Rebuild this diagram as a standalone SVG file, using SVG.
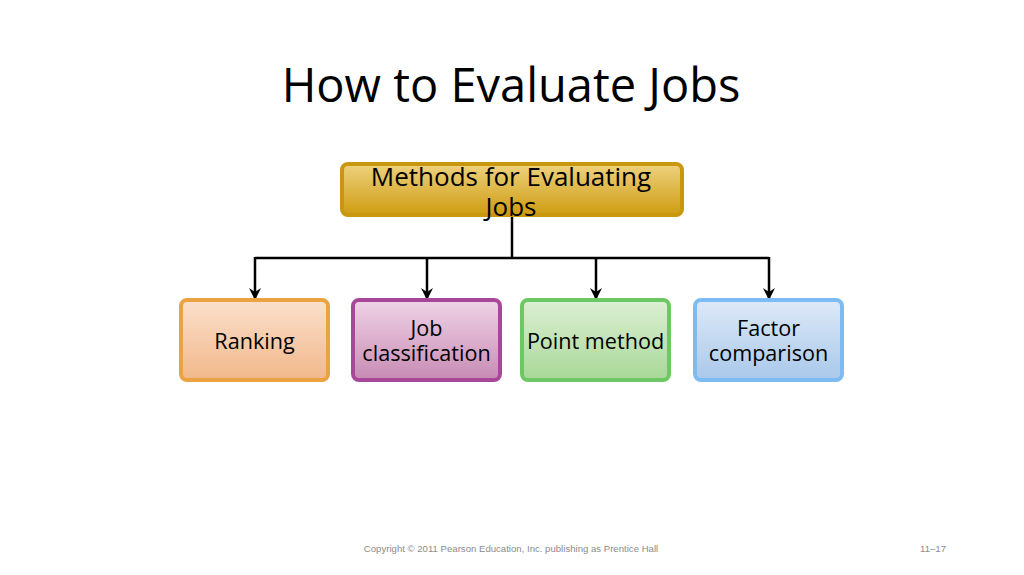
<svg xmlns="http://www.w3.org/2000/svg" width="1024" height="575" viewBox="0 0 1024 575">
<defs>
<linearGradient id="gGold" x1="0" y1="0" x2="0" y2="1"><stop offset="0" stop-color="#edd27e"/><stop offset="1" stop-color="#cf9c12"/></linearGradient>
<linearGradient id="gOrange" x1="0" y1="0" x2="0" y2="1"><stop offset="0" stop-color="#fbe0cc"/><stop offset="1" stop-color="#f1b88a"/></linearGradient>
<linearGradient id="gPurple" x1="0" y1="0" x2="0" y2="1"><stop offset="0" stop-color="#efd3e6"/><stop offset="1" stop-color="#c88bb4"/></linearGradient>
<linearGradient id="gGreen" x1="0" y1="0" x2="0" y2="1"><stop offset="0" stop-color="#dcefd3"/><stop offset="1" stop-color="#a8d897"/></linearGradient>
<linearGradient id="gBlue" x1="0" y1="0" x2="0" y2="1"><stop offset="0" stop-color="#dde9f8"/><stop offset="1" stop-color="#a9c8ea"/></linearGradient>
<marker id="arr" markerWidth="12" markerHeight="12" viewBox="0 0 12 12" refX="11" refY="6" orient="auto" markerUnits="userSpaceOnUse">
<path d="M0,0 L12,6 L0,12 L4,6 Z" fill="#000"/>
</marker>
</defs>
<style>
.t{font-family:"Open Sans","Noto Sans",sans-serif;fill:#000;text-anchor:middle}
.conn{fill:none;stroke:#000;stroke-width:2.5}
.foot{font-family:"Liberation Sans",Arial,sans-serif;font-size:9.6px;fill:#8c8c8c}
</style>
<rect width="1024" height="575" fill="#fff"/>
<text class="t" x="511" y="102" font-size="47">How to Evaluate Jobs</text>
<g id="connectors">
<path class="conn" d="M512,198 V258"/>
<path class="conn" d="M255,258 H769"/>
<path class="conn" d="M255,257 V299" marker-end="url(#arr)"/>
<path class="conn" d="M427,257 V299" marker-end="url(#arr)"/>
<path class="conn" d="M596,257 V299" marker-end="url(#arr)"/>
<path class="conn" d="M769,257 V299" marker-end="url(#arr)"/>
</g>
<g id="node-methods">
<rect x="342" y="164" width="340" height="51" rx="6" fill="url(#gGold)" stroke="#c9960f" stroke-width="4"/>
<text class="t" font-size="26"><tspan x="511" y="186">Methods for Evaluating</tspan><tspan x="511" y="216">Jobs</tspan></text>
</g>
<g id="node-ranking">
<rect x="181" y="300" width="147" height="80" rx="6" fill="url(#gOrange)" stroke="#eba240" stroke-width="4"/>
<text class="t" font-size="21.6" x="254.5" y="349">Ranking</text>
</g>
<g id="node-job">
<rect x="353" y="300" width="147" height="80" rx="6" fill="url(#gPurple)" stroke="#a8479a" stroke-width="4"/>
<text class="t" font-size="21.6"><tspan x="426.5" y="336">Job</tspan><tspan x="426.5" y="361">classification</tspan></text>
</g>
<g id="node-point">
<rect x="522" y="300" width="147" height="80" rx="6" fill="url(#gGreen)" stroke="#6cc862" stroke-width="4"/>
<text class="t" font-size="21.6" x="595.5" y="349">Point method</text>
</g>
<g id="node-factor">
<rect x="695" y="300" width="147" height="80" rx="6" fill="url(#gBlue)" stroke="#7dbcf2" stroke-width="4"/>
<text class="t" font-size="21.6"><tspan x="768.5" y="336">Factor</tspan><tspan x="768.5" y="361">comparison</tspan></text>
</g>
<text class="foot" x="511" y="552" text-anchor="middle">Copyright © 2011 Pearson Education, Inc. publishing as Prentice Hall</text>
<text class="foot" x="933" y="552" text-anchor="middle">11–17</text>
</svg>
